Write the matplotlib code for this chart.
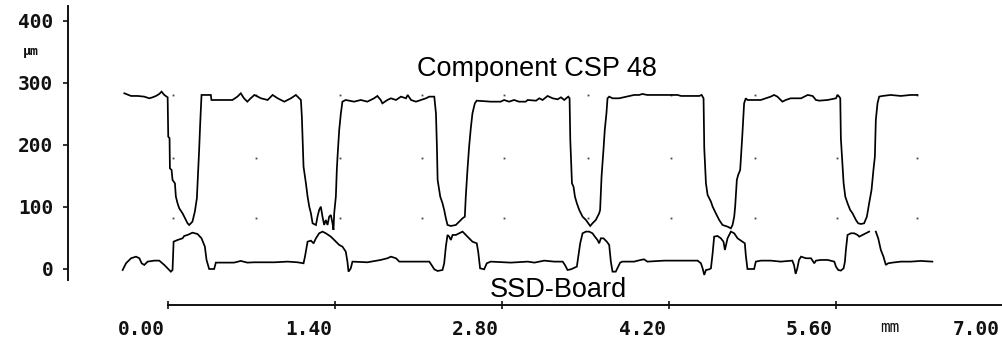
import numpy as np
import matplotlib
matplotlib.use("Agg")
import matplotlib.pyplot as plt
from matplotlib.transforms import ScaledTranslation

# ---- data: profile heights (x in mm, height in µm) ----
component_x = [-0.365, -0.309, -0.253, -0.198, -0.156, -0.128, -0.100, -0.072, -0.053, -0.030,
               -0.002, 0.003, 0.014, 0.017, 0.031, 0.039, 0.059, 0.067, 0.081, 0.095,
               0.123, 0.137, 0.165, 0.179, 0.206, 0.226, 0.243, 0.254, 0.262, 0.271,
               0.282, 0.360, 0.365, 0.541, 0.583, 0.611, 0.638, 0.666, 0.694,
               0.725, 0.781, 0.836, 0.878, 0.920, 0.976, 1.031, 1.073, 1.101, 1.115,
               1.123, 1.137, 1.157, 1.171, 1.185, 1.199, 1.213, 1.241, 1.254, 1.268,
               1.282, 1.296, 1.310, 1.324, 1.338, 1.352, 1.366, 1.380, 1.388, 1.394,
               1.408, 1.416, 1.422, 1.436, 1.450, 1.463, 1.491, 1.561, 1.617, 1.672,
               1.728, 1.756, 1.784, 1.798, 1.840,
               1.870, 1.912, 1.954, 1.996, 2.010, 2.038, 2.079, 2.121, 2.163, 2.191,
               2.233, 2.247, 2.255, 2.261, 2.283, 2.302, 2.316, 2.330, 2.344, 2.372,
               2.414, 2.442, 2.470, 2.489, 2.497, 2.511, 2.525, 2.539, 2.553, 2.573,
               2.589, 2.706, 2.790, 2.818, 2.860, 2.902, 2.943, 2.999,
               3.016, 3.086, 3.113, 3.141, 3.183, 3.225, 3.267, 3.295, 3.322, 3.356,
               3.367, 3.373, 3.387, 3.400, 3.412, 3.428, 3.448, 3.476, 3.504, 3.540,
               3.559, 3.587, 3.615, 3.623, 3.635, 3.651, 3.662, 3.676, 3.685, 3.699,
               3.727, 3.782, 3.908, 3.950, 3.977, 4.019,
               4.161, 4.273, 4.301, 4.454, 4.474, 4.490, 4.496, 4.510, 4.524, 4.552,
               4.566, 4.593, 4.621, 4.649, 4.691, 4.719, 4.733, 4.747, 4.755, 4.769,
               4.780, 4.797, 4.816, 4.830, 4.844, 4.858, 4.970, 5.011, 5.053, 5.081,
               5.109, 5.151, 5.179, 5.220,
               5.307, 5.363, 5.404, 5.432, 5.460, 5.530, 5.600, 5.613, 5.627, 5.636,
               5.641, 5.655, 5.664, 5.678, 5.697, 5.719, 5.739, 5.767, 5.786, 5.809,
               5.836, 5.859, 5.878, 5.898, 5.914, 5.926, 5.934, 5.948, 5.962, 5.990,
               6.059, 6.143, 6.227, 6.282]
component_y = [282.6, 278.3, 278.3, 277.2, 274.5, 276.1, 278.3, 281.5, 285.3, 279.9,
               276.1, 212.7, 210.0, 161.6, 158.9, 142.8, 137.4, 115.9, 105.2, 97.1,
               89.0, 83.6, 72.9, 70.2, 75.6, 91.7, 113.2, 158.9, 191.2, 234.2,
               279.9, 279.9, 271.8, 271.8, 277.2, 282.6, 274.5, 269.1, 274.5,
               279.9, 274.5, 271.8, 279.9, 274.5, 269.1, 274.5, 279.9, 274.5, 271.8,
               244.9, 164.3, 137.4, 115.9, 99.8, 89.0, 72.9, 70.2, 83.6, 94.4,
               99.8, 83.6, 70.2, 78.3, 70.2, 83.6, 86.3, 72.9, 62.2, 89.0,
               115.9, 158.9, 180.4, 223.4, 250.3, 269.1, 271.8, 269.1, 271.8, 269.1,
               274.5, 278.3, 271.8, 266.4, 271.8,
               274.5, 271.8, 277.2, 274.5, 279.9, 271.8, 269.1, 271.8, 274.5, 277.2,
               277.2, 250.3, 196.6, 142.8, 115.9, 105.2, 94.4, 81.0, 70.2, 68.6,
               70.2, 75.6, 81.0, 83.6, 115.9, 158.9, 196.6, 226.1, 250.3, 266.4,
               270.7, 269.1, 269.1, 271.8, 269.1, 271.8, 269.1, 269.1,
               271.8, 270.7, 274.5, 271.8, 278.3, 274.5, 272.9, 276.1, 271.8, 277.2,
               274.5, 207.3, 137.4, 132.0, 115.9, 105.2, 94.4, 83.6, 78.3, 68.6,
               72.9, 78.3, 89.0, 94.4, 148.2, 191.2, 223.4, 250.3, 274.5, 277.2,
               274.5, 274.5, 279.9, 279.9, 281.5, 279.9,
               279.9, 279.9, 278.3, 278.3, 279.9, 274.5, 193.9, 137.4, 118.6, 107.8,
               99.8, 89.0, 78.3, 70.2, 67.5, 64.8, 70.2, 83.6, 99.8, 142.8,
               150.8, 158.9, 218.1, 266.4, 274.5, 271.8, 271.8, 274.5, 277.2, 279.9,
               277.2, 269.1, 271.8, 274.5,
               274.5, 279.9, 278.3, 271.8, 270.7, 271.8, 274.5, 279.9, 277.2, 274.5,
               210.0, 164.3, 137.4, 115.9, 105.2, 94.4, 89.0, 78.3, 72.9, 71.8,
               72.9, 83.6, 105.2, 126.7, 158.9, 180.4, 239.6, 266.4, 277.2, 278.3,
               279.9, 278.3, 279.9, 279.9]

board_x = [-0.379, -0.351, -0.309, -0.267, -0.239, -0.220, -0.198, -0.170, -0.114, -0.072,
           -0.030, -0.002, 0.025, 0.039, 0.048, 0.081, 0.123, 0.137, 0.165, 0.206,
           0.248, 0.282, 0.310, 0.324, 0.346, 0.388, 0.402, 0.555, 0.611, 0.666,
           0.725, 0.892, 1.004, 1.087, 1.137, 1.149, 1.171, 1.199, 1.221, 1.241,
           1.268, 1.296, 1.324, 1.366, 1.408, 1.436, 1.463, 1.491, 1.505, 1.514,
           1.533, 1.547, 1.672, 1.784, 1.840,
           1.870, 1.912, 1.940, 2.038, 2.191, 2.210, 2.233, 2.261, 2.302, 2.316,
           2.330, 2.344, 2.358, 2.372, 2.386, 2.414, 2.442, 2.470, 2.497, 2.525,
           2.553, 2.589, 2.601, 2.617, 2.651, 2.673, 2.706, 2.874,
           3.016, 3.072, 3.155, 3.239, 3.309, 3.328, 3.350, 3.378, 3.428, 3.440,
           3.456, 3.476, 3.504, 3.531, 3.559, 3.579, 3.601, 3.615, 3.629, 3.651,
           3.679, 3.699, 3.713, 3.727, 3.754, 3.774, 3.791, 3.810, 3.908, 3.963,
           3.991, 4.019,
           4.161, 4.440, 4.468, 4.482, 4.496, 4.510, 4.538, 4.552, 4.566, 4.579,
           4.607, 4.635, 4.657, 4.669, 4.691, 4.719, 4.747, 4.775, 4.816, 4.836,
           4.844, 4.858, 4.914, 4.928, 4.970, 5.053, 5.137, 5.234, 5.248, 5.262,
           5.276, 5.290,
           5.307, 5.349, 5.391, 5.418, 5.432, 5.474, 5.530, 5.586, 5.600, 5.619,
           5.641, 5.664, 5.675, 5.683, 5.697, 5.725, 5.753, 5.781, 5.795, 5.823,
           5.850, 5.878, np.nan, 5.934, 5.954, 5.976, 5.998, 6.018, 6.037, 6.073,
           6.143, 6.227, 6.310, 6.408]
board_y = [-2.4, 8.4, 16.5, 19.1, 16.5, 8.4, 5.7, 11.1, 12.7, 12.7,
           5.7, 0.3, -5.1, -2.4, 43.3, 46.0, 48.7, 52.5, 54.1, 57.8,
           55.7, 48.7, 35.3, 13.8, -0.8, -0.8, 9.5, 9.5, 12.2, 9.5,
           10.0, 10.0, 11.1, 10.0, 8.4, 19.1, 43.3, 44.9, 40.6, 48.7,
           56.8, 59.5, 56.8, 51.4, 43.3, 38.0, 35.3, 27.2, 11.1, -5.1,
           0.3, 11.1, 10.0, 13.8, 16.5,
           19.1, 16.5, 11.1, 11.1, 11.1, 5.7, -1.3, -4.0, -2.4, 8.4,
           35.3, 54.1, 51.4, 46.0, 54.1, 54.1, 56.8, 59.5, 54.1, 48.7,
           43.3, 40.6, 27.2, 0.3, -1.3, 8.4, 11.1, 9.5,
           11.1, 9.5, 12.7, 11.1, 11.1, 5.7, -2.4, -1.3, 3.0, 19.1,
           40.6, 56.8, 59.5, 59.5, 56.8, 51.4, 46.0, 40.6, 48.7, 48.7,
           43.3, 38.0, 11.1, -5.1, -5.1, 3.0, 9.5, 11.1, 11.1, 13.8,
           14.8, 11.1,
           12.7, 12.7, 8.4, 0.3, -10.4, -2.4, -1.3, 0.3, 24.5, 51.4,
           52.5, 48.7, 43.3, 29.9, 48.7, 59.5, 56.8, 48.7, 43.3, 40.6,
           21.8, -0.8, -0.8, 11.1, 12.7, 12.7, 11.1, 12.7, 5.7, -8.7,
           0.3, 13.8,
           19.1, 16.5, 16.5, 8.4, 12.7, 13.8, 13.8, 11.1, 3.0, -2.4,
           -3.4, 0.3, 11.1, 29.9, 54.1, 56.8, 56.8, 54.1, 51.4, 54.1,
           56.8, 59.5, np.nan, 59.5, 48.7, 29.9, 19.1, 5.7, 8.4, 9.5,
           11.1, 11.1, 12.2, 11.1]

x_ticks = [0.0, 1.4, 2.8, 4.2, 5.6, 7.0]
x_tick_labels = ["0.00", "1.40", "2.80", "4.20", "5.60", "7.00"]
y_ticks = [0, 100, 200, 300, 400]
y_tick_labels = ["0", "100", "200", "300", "400"]
grid_x = [0.04, 0.74, 1.44, 2.13, 2.82, 3.52, 4.22, 4.92, 5.61, 6.28]
grid_y = [280, 179, 81]

# ---- figure ----
W, H, DPI = 1003, 340, 100
fig = plt.figure(figsize=(W / DPI, H / DPI), dpi=DPI)
fig.patch.set_facecolor("white")
ax = fig.add_axes([0, 0, 1, 1])
ax.set_facecolor("none")

# pixel mapping: x_px = 168.3 + 119.6*mm ; y_px = 268.5 - 0.62*um
ax.set_xlim(-168.3 / 119.6, (W - 168.3) / 119.6)
ax.set_ylim((268.5 - H) / 0.62, 268.5 / 0.62)

ax.spines["top"].set_visible(False)
ax.spines["right"].set_visible(False)
ax.spines["left"].set_position(("data", (68.3 - 168.3) / 119.6))
ax.spines["left"].set_bounds((268.5 - 280) / 0.62, (268.5 - 6) / 0.62)
ax.spines["bottom"].set_position(("data", (268.5 - 305) / 0.62))
ax.spines["bottom"].set_bounds(0, (W - 168.3) / 119.6)
for s in ("left", "bottom"):
    ax.spines[s].set_linewidth(1.4)
    ax.spines[s].set_color("#111111")

lab_font = dict(family="DejaVu Sans Mono", weight="bold", size=14)
ax.set_xticks(x_ticks)
ax.set_xticklabels(x_tick_labels, fontdict=lab_font, color="#111111")
ax.set_yticks(y_ticks)
ax.set_yticklabels(y_tick_labels, fontdict=lab_font, color="#111111")
ax.tick_params(axis="x", direction="inout", length=5.8, width=1.2, pad=8.2, colors="#111111")
ax.tick_params(axis="y", direction="out", length=3.6, width=1.2, pad=7.0, colors="#111111")
for lab in ax.get_xticklabels():
    lab.set_ha("right")
    lab.set_transform(lab.get_transform() + ScaledTranslation(-3 / DPI, 0, fig.dpi_scale_trans))

# faint grid dots
gx, gy = np.meshgrid(grid_x, grid_y)
ax.plot(gx.ravel(), gy.ravel(), linestyle="none", marker="s", markersize=1.3,
        markeredgewidth=0, color="#444444")

# profiles
ax.plot(component_x, component_y, color="black", lw=1.25, solid_joinstyle="miter")
ax.plot(board_x, board_y, color="black", lw=1.25, solid_joinstyle="miter")

# unit labels
fig.text(31 / W, 1 - 51 / H, "µm", ha="center", va="center",
         family="DejaVu Sans Mono", weight="bold", size=9.5, color="#111111")
fig.text(890 / W, 1 - 328 / H, "mm", ha="center", va="center",
         family="DejaVu Sans Mono", size=11.5, color="#111111")

# annotations
fig.text(417 / W, 1 - 76 / H, "Component CSP 48", ha="left", va="baseline",
         family="Liberation Sans", size=19.5, color="black")
fig.text(490 / W, 1 - 297 / H, "SSD-Board", ha="left", va="baseline",
         family="Liberation Sans", size=19.5, color="black")

fig.savefig("out.png", dpi=DPI, facecolor="white")
